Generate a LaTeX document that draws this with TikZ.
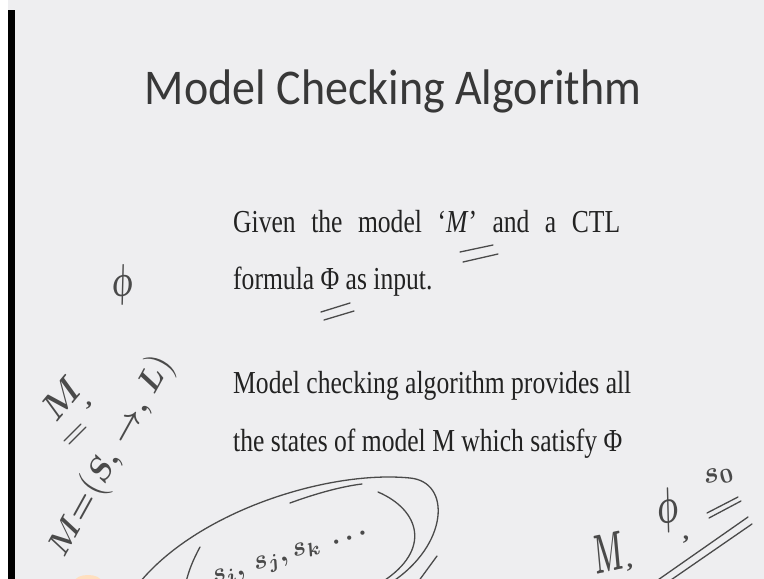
\documentclass[tikz,border=0pt]{standalone}
\usepackage{fontspec}
\usepackage{graphicx}
\setmainfont{Liberation Serif}
\newfontfamily\titlefont[FakeStretch=0.92]{Carlito}
\newfontfamily\bodyfont[FakeStretch=0.8]{Liberation Serif}
\definecolor{bg}{HTML}{EEEEF0}
\definecolor{ink}{HTML}{4A4A4A}
\definecolor{txt}{HTML}{222222}
\definecolor{titlecol}{HTML}{383838}
\begin{document}
\begin{tikzpicture}[x=1pt,y=-1pt,
  pen/.style={draw=ink,line width=1.3pt,line cap=round},
  hand/.style={text=ink,inner sep=0pt},
  body/.style={text=txt,anchor=base west,inner sep=0pt,font=\bodyfont\fontsize{32}{32}\selectfont}]
\useasboundingbox (0,0) rectangle (764,579);
\begin{scope}
\clip (0,0) rectangle (764,579);
\fill[white] (0,0) rectangle (764,579);
\fill[bg] (8,0) rectangle (764,579);
\fill[black] (8,10) rectangle (15,579);
\fill[orange!25] (88,581) ellipse (13 and 6);

% title
\node[text=titlecol,anchor=base,inner sep=0pt,font=\titlefont\fontsize{50}{50}\selectfont] (title) at (393,104) {Model Checking Algorithm};

% body text
\node[body] (l1) at (233,232) {\makebox[387pt][s]{Given the model ‘\textit{M}’ and a CTL}};
\node[body] (l2) at (233,289) {formula Φ as input.};
\node[body] (l3) at (233,393) {Model checking algorithm provides all};
\node[body] (l4) at (233,451) {the states of model M which satisfy Φ};

% underlines under M' and Phi
\draw[pen] (460,252) -- (493,245);
\draw[pen] (463,262) -- (498,254);
\draw[pen] (321,312) -- (350,303);
\draw[pen] (324,320) -- (354,311);

% left handwriting
\node[hand,rotate=8] (phia) at (123,285) {\scalebox{3}[4.5]{\boldmath$\phi$}};
\node[hand,rotate=50] (mlbl) at (62,398) {\scalebox{3.6}{\boldmath$M$}};
\node[hand] (mcomma) at (89,406) {\scalebox{2.5}{\bfseries ,}};
\draw[pen] (64,441) -- (81,424);
\draw[pen] (69,444) -- (86,427);
\node[hand,rotate=61] (mdef) at (112,456) {\scalebox{3.2}{\boldmath$M{=}\bigl(S,\,\rightarrow,\,L\bigr)$}};

% bottom ellipse sketch
\draw[pen] (140,582) .. controls (200,510) and (330,470) .. (410,478)
           .. controls (452,482) and (448,545) .. (392,582);
\draw[pen] (290,503) .. controls (320,492) and (345,486) .. (362,484);
\draw[pen] (378,492) .. controls (420,510) and (432,550) .. (382,582);
\draw[pen] (437,556) -- (418,582);
\draw[pen] (200,547) .. controls (193,560) and (189,570) .. (186,582);
\node[hand,rotate=18,anchor=base west] (slist) at (214,584) {\scalebox{2.7}{\boldmath$s_i,\,s_j,s_k\ \ldots$}};

% right handwriting
\node[hand,rotate=12] (mr) at (609,553) {\scalebox{2.6}[5.5]{\boldmath$M$}};
\node[hand] (mrc) at (630,568) {\scalebox{2.5}{\bfseries ,}};
\node[hand,rotate=10] (phir) at (668,510) {\scalebox{3}[5]{\boldmath$\phi$}};
\node[hand] (phic) at (686,540) {\scalebox{2.5}{\bfseries ,}};
\node[hand,rotate=15] (szero) at (719,476) {\scalebox{3}{\boldmath$s_0$}};
\draw[pen] (707,513) -- (738,497);
\draw[pen] (709,518) -- (741,501);
\draw[pen] (655,582) -- (748,517);
\draw[pen] (668,582) -- (752,524);
\end{scope}
\end{tikzpicture}
\end{document}
